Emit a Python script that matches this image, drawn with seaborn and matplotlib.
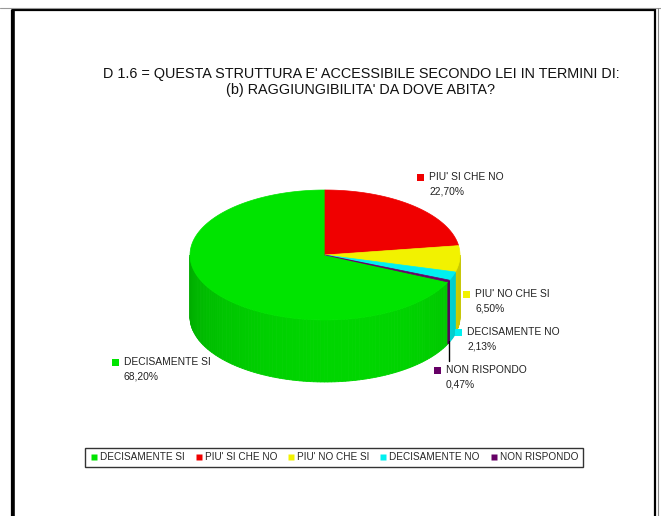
import numpy as np
import matplotlib
matplotlib.use("Agg")
import matplotlib.pyplot as plt
import seaborn as sns
from matplotlib.patches import Polygon, Rectangle
from matplotlib.lines import Line2D

categories = ["DECISAMENTE SI", "PIU' SI CHE NO", "PIU' NO CHE SI", "DECISAMENTE NO", "NON RISPONDO"]
values = [68.20, 22.70, 6.50, 2.13, 0.47]
value_labels = ["68,20%", "22,70%", "6,50%", "2,13%", "0,47%"]
colors = ["#00E400", "#F00000", "#F2F200", "#00F0F0", "#660066"]

title = "D 1.6 = QUESTA STRUTTURA E' ACCESSIBILE SECONDO LEI IN TERMINI DI:\n(b) RAGGIUNGIBILITA' DA DOVE ABITA?"

# label anchor (marker square) positions in pixels
label_pos = [(115, 362), (420, 177), (466, 294), (458, 332), (437, 370)]

sns.set_theme(style="white")
plt.rcParams['font.family'] = ['Liberation Sans', 'DejaVu Sans']

fig = plt.figure(figsize=(6.61, 5.16), dpi=100)
ax = fig.add_axes([0, 0, 1, 1])
ax.set_xlim(0, 661)
ax.set_ylim(516, 0)
ax.axis('off')

# outer frame
ax.add_patch(Rectangle((12, 10), 643, 520, fill=False, ec='black', lw=1.6))
ax.plot([12.5, 12.5], [10, 516], color='black', lw=2.6)
ax.plot([0, 661], [7.5, 7.5], color='#999999', lw=0.8)
ax.plot([657.5, 657.5], [8, 516], color='#888888', lw=0.8)

# 3D pie geometry
cx, cy, ra, rb, depth = 325, 255, 135, 65, 62
total = sum(values)
spans = [v / total * 360 for v in values]
start = 360 - spans[0]


def pt(theta, dy=0):
    t = np.radians(theta)
    return cx + ra * np.sin(t), cy - rb * np.cos(t) + dy


def shade(c, theta):
    rgb = np.array(matplotlib.colors.to_rgb(c))
    f = 0.78 + 0.16 * np.cos(np.radians(theta - 170))
    return tuple(np.clip(rgb * f, 0, 1))


bounds = []
a0 = start
for s in spans:
    bounds.append((a0, a0 + s))
    a0 += s

# side walls (front half only)
for (t0, t1), c in zip(bounds, colors):
    for off in (-360, 0, 360):
        lo, hi = max(t0 + off, 90), min(t1 + off, 270)
        if hi <= lo:
            continue
        steps = np.linspace(lo, hi, max(2, int((hi - lo) / 1.5) + 2))
        for u0, u1 in zip(steps[:-1], steps[1:]):
            col = shade(c, (u0 + u1) / 2)
            poly = [pt(u0), pt(u1), pt(u1, depth), pt(u0, depth)]
            ax.add_patch(Polygon(poly, closed=True, fc=col, ec=col, lw=0.6))

# top faces
for (t0, t1), c in zip(bounds, colors):
    arc = np.linspace(t0, t1, max(3, int(t1 - t0) + 3))
    poly = [(cx, cy)] + [pt(t) for t in arc]
    ax.add_patch(Polygon(poly, closed=True, fc=c, ec=c, lw=0.5))

# leader line for the smallest slice
mid = (bounds[4][0] + bounds[4][1]) / 2
bx, by = pt(mid, depth)
ax.plot([bx, bx], [by - 2, label_pos[4][1] - 9], color='black', lw=1)

# data labels
for (x, y), c, name, lab in zip(label_pos, colors, categories, value_labels):
    ax.add_patch(Rectangle((x - 3.5, y - 3.5), 7, 7, fc=c, ec='none'))
    ax.text(x + 9, y, name, fontsize=7.4, va='center', ha='left', color='#222222')
    ax.text(x + 9, y + 14.5, lab, fontsize=7.4, va='center', ha='left', color='#222222')

# title
ax.text(361, 82, title, fontsize=10.4, ha='center', va='center', linespacing=1.2, color='#111111')

# legend
handles = [Line2D([], [], marker='s', linestyle='none', markersize=4.5,
                  markerfacecolor=c, markeredgecolor='none') for c in colors]
leg = fig.legend(handles, categories, loc='center', bbox_to_anchor=(334 / 661, 1 - 457 / 516),
                 ncol=5, fontsize=7.2, frameon=True, fancybox=False, handlelength=0.8,
                 handletextpad=0.2, columnspacing=1.0, borderpad=0.45, borderaxespad=0)
leg.get_frame().set_edgecolor('black')
leg.get_frame().set_linewidth(1.0)

fig.savefig("out.png", dpi=100)
